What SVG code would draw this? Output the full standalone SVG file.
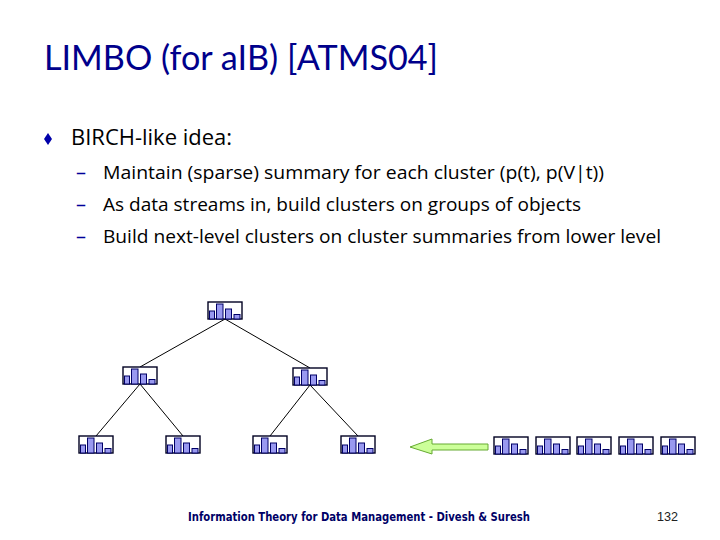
<svg xmlns="http://www.w3.org/2000/svg" xmlns:xlink="http://www.w3.org/1999/xlink" width="720" height="540" viewBox="0 0 720 540">
<style>
.title{font-family:Lato,"Open Sans",sans-serif;font-size:34px;fill:#00008b}
.body{font-family:"Open Sans","Noto Sans",sans-serif;fill:#000}
.dash{font-family:"Open Sans",sans-serif;font-size:20px;fill:#000099}
.foot{font-family:"DejaVu Sans",sans-serif;font-size:12px;font-weight:bold;fill:#000066}
.num{font-family:"Liberation Sans",sans-serif;font-size:13px;fill:#222}
.conn line{stroke:#000;stroke-width:1}
.box{fill:#fff;stroke:#000022;stroke-width:1.4}
.bar{fill:#9999f0;stroke:#000066;stroke-width:1}
</style>
<defs>
<g id="icon">
<rect class="box" x="0" y="0" width="34" height="17"/>
<rect class="bar" x="1.5" y="9" width="5" height="8"/>
<rect class="bar" x="8.5" y="2" width="6.5" height="15"/>
<rect class="bar" x="17.5" y="7" width="6" height="10"/>
<rect class="bar" x="26" y="12.5" width="6" height="4.5"/>
</g>
</defs>
<rect width="720" height="540" fill="#fff"/>
<text class="title" x="44" y="70" textLength="394" lengthAdjust="spacingAndGlyphs">LIMBO (for aIB) [ATMS04]</text>
<polygon points="48,133 52,139 48,145 44,139" fill="#0000aa"/>
<text class="body" x="71" y="145" font-size="21" textLength="161" lengthAdjust="spacingAndGlyphs">BIRCH-like idea:</text>
<text class="dash" x="76" y="179">–</text>
<text class="dash" x="76" y="211">–</text>
<text class="dash" x="76" y="243">–</text>
<text class="body" x="103" y="179" font-size="19" textLength="501" lengthAdjust="spacingAndGlyphs">Maintain (sparse) summary for each cluster (p(t), p(V|t))</text>
<text class="body" x="103" y="211" font-size="19" textLength="478" lengthAdjust="spacingAndGlyphs">As data streams in, build clusters on groups of objects</text>
<text class="body" x="103" y="243" font-size="19" textLength="558" lengthAdjust="spacingAndGlyphs">Build next-level clusters on cluster summaries from lower level</text>
<g class="conn" id="connectors">
<line x1="225" y1="319" x2="140" y2="367"/>
<line x1="225" y1="319" x2="310" y2="368"/>
<line x1="140" y1="384" x2="96" y2="436"/>
<line x1="140" y1="384" x2="183" y2="436"/>
<line x1="310" y1="385" x2="270" y2="436"/>
<line x1="310" y1="385" x2="358" y2="436"/>
</g>
<g id="n-top"><use xlink:href="#icon" x="208" y="302"/></g>
<g id="n-l1"><use xlink:href="#icon" x="123" y="367"/></g>
<g id="n-r1"><use xlink:href="#icon" x="293" y="368"/></g>
<g id="n-b1"><use xlink:href="#icon" x="79" y="436"/></g>
<g id="n-b2"><use xlink:href="#icon" x="166" y="436"/></g>
<g id="n-b3"><use xlink:href="#icon" x="253" y="436"/></g>
<g id="n-b4"><use xlink:href="#icon" x="341" y="436"/></g>
<g id="arrow"><polygon points="410,447 432,439 432,444 488,444 488,450 432,450 432,454" fill="#ccff99" stroke="#66aa33" stroke-width="1"/></g>
<g id="s1"><use xlink:href="#icon" x="494" y="437"/></g>
<g id="s2"><use xlink:href="#icon" x="536" y="437"/></g>
<g id="s3"><use xlink:href="#icon" x="577" y="437"/></g>
<g id="s4"><use xlink:href="#icon" x="619" y="437"/></g>
<g id="s5"><use xlink:href="#icon" x="661" y="437"/></g>
<text class="foot" x="188" y="521" textLength="342" lengthAdjust="spacingAndGlyphs">Information Theory for Data Management - Divesh &amp; Suresh</text>
<text class="num" x="657" y="521" textLength="21" lengthAdjust="spacingAndGlyphs">132</text>
</svg>
